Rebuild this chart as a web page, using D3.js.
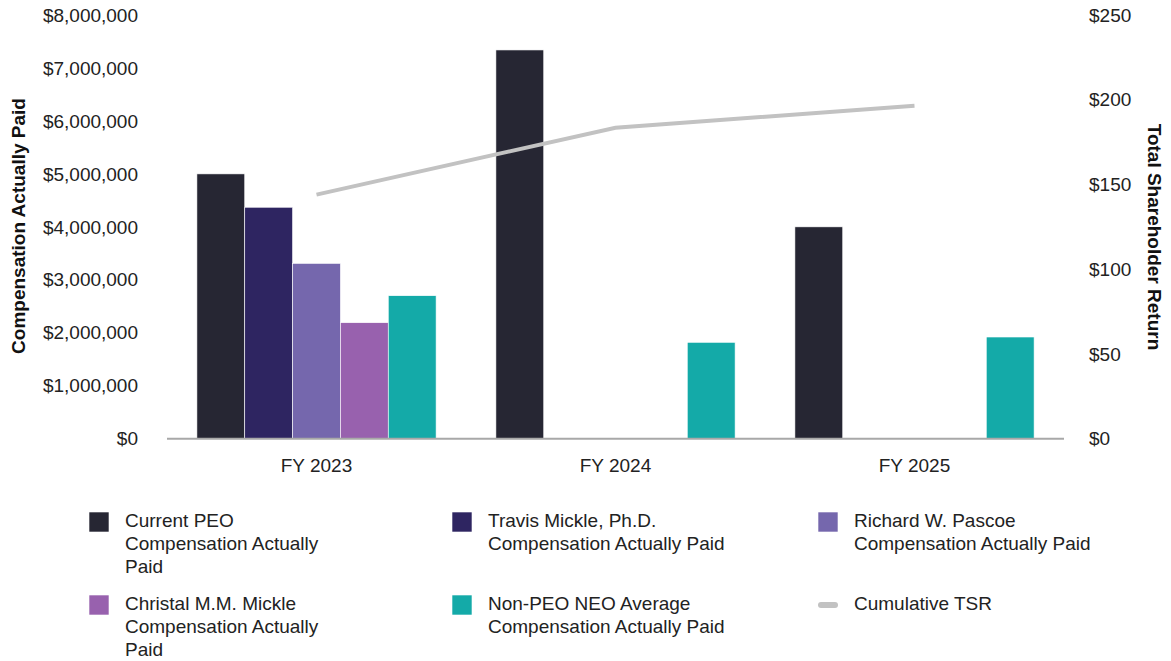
<!DOCTYPE html>
<html lang="en">
<head>
  <meta charset="UTF-8">
  <title>CAP vs TSR</title>
  <style>
    body{margin: 0; background: #fff;}
    svg{display: block; font-family: "Liberation Sans", Arial, sans-serif;}
  </style>
</head>
<body>
  <div id="chart"></div>
  <script src="https://d3js.org/d3.v7.min.js"></script>
  <script>
  // DATA
  const years = ["FY 2023", "FY 2024", "FY 2025"];
  const seriesNames = [
    ["Current PEO", "Compensation Actually", "Paid"],
    ["Travis Mickle, Ph.D.", "Compensation Actually Paid"],
    ["Richard W. Pascoe", "Compensation Actually Paid"],
    ["Christal M.M. Mickle", "Compensation Actually", "Paid"],
    ["Non-PEO NEO Average", "Compensation Actually Paid"]
  ];
  const currentPeo = [5000000, 7340000, 4000000];
  const travisMickle = [4370000, null, null];
  const richardPascoe = [3310000, null, null];
  const christalMickle = [2190000, null, null];
  const nonPeoAvg = [2700000, 1820000, 1920000];
  const tsr = [144, 183.5, 196.5];
  const leftTicks = [0, 1000000, 2000000, 3000000, 4000000, 5000000, 6000000, 7000000, 8000000];
  const rightTicks = [0, 50, 100, 150, 200, 250];

  // CONSTANTS
  const width = 1171;
  const height = 661;
  const fs = 19;
  const colors = ["#262633", "#2e2561", "#7567ad", "#9861ae", "#14aaa8"];
  const cline = "#c2c2c2";
  const caxis = "#a8a8a8";
  const ctext = "#222";

  const series = [currentPeo, travisMickle, richardPascoe, christalMickle, nonPeoAvg];

  const svg = d3.select("#chart").append("svg")
    .attr("width", width)
    .attr("height", height);

  // SCALES
  const x = d3.scaleBand()
    .domain(years)
    .range([167, 1064])
    .paddingInner(0.2)
    .paddingOuter(0.1);

  const xs = d3.scaleBand()
    .domain(d3.range(series.length))
    .range([0, x.bandwidth()]);

  const yL = d3.scaleLinear().domain([0, 8000000]).range([438.7, 15]);
  const yR = d3.scaleLinear().domain([0, 250]).range([438.7, 15]);

  // LEFT AXIS
  const money = d3.format("$,.0f");
  svg.append("g")
    .selectAll("text")
    .data(leftTicks)
    .join("text")
    .attr("x", 138)
    .attr("y", d => yL(d))
    .attr("dy", "0.35em")
    .attr("text-anchor", "end")
    .attr("font-size", fs)
    .attr("fill", ctext)
    .text(d => money(d));

  // RIGHT AXIS
  svg.append("g")
    .selectAll("text")
    .data(rightTicks)
    .join("text")
    .attr("x", 1089)
    .attr("y", d => yR(d))
    .attr("dy", "0.35em")
    .attr("text-anchor", "start")
    .attr("font-size", fs)
    .attr("fill", ctext)
    .text(d => "$" + d);

  // AXIS TITLES
  svg.append("text")
    .attr("transform", "translate(25,226) rotate(-90)")
    .attr("text-anchor", "middle")
    .attr("font-size", fs)
    .attr("font-weight", "bold")
    .attr("fill", "#111")
    .text("Compensation Actually Paid");

  svg.append("text")
    .attr("transform", "translate(1148,237) rotate(90)")
    .attr("text-anchor", "middle")
    .attr("font-size", fs)
    .attr("font-weight", "bold")
    .attr("fill", "#111")
    .text("Total Shareholder Return");

  // BARS
  const groups = svg.append("g")
    .selectAll("g")
    .data(years)
    .join("g")
    .attr("transform", d => `translate(${x(d)},0)`);

  groups.selectAll("rect")
    .data((d, i) => series.map((s, k) => ({k: k, v: s[i]})).filter(e => e.v != null))
    .join("rect")
    .attr("x", d => xs(d.k))
    .attr("width", xs.bandwidth())
    .attr("y", d => yL(d.v))
    .attr("height", d => yL(0) - yL(d.v))
    .attr("fill", d => colors[d.k])
    .attr("stroke", "#fff")
    .attr("stroke-width", 0.6);

  // BASELINE
  svg.append("line")
    .attr("x1", 167)
    .attr("x2", 1064)
    .attr("y1", yL(0))
    .attr("y2", yL(0))
    .attr("stroke", caxis)
    .attr("stroke-width", 2);

  // X LABELS
  svg.append("g")
    .selectAll("text")
    .data(years)
    .join("text")
    .attr("x", d => x(d) + x.bandwidth() / 2)
    .attr("y", 465)
    .attr("dy", "0.35em")
    .attr("text-anchor", "middle")
    .attr("font-size", fs)
    .attr("fill", ctext)
    .text(d => d);

  // TSR LINE
  const line = d3.line()
    .x((d, i) => x(years[i]) + x.bandwidth() / 2)
    .y(d => yR(d));

  svg.append("path")
    .datum(tsr)
    .attr("d", line)
    .attr("fill", "none")
    .attr("stroke", cline)
    .attr("stroke-width", 4);

  // LEGEND
  const legendItems = seriesNames.map((n, i) => ({lines: n, color: colors[i], type: "rect"}));
  legendItems.push({lines: ["Cumulative TSR"], color: cline, type: "line"});
  const colX = [89, 452, 818];
  const rowY = [512, 595];

  const legend = svg.append("g")
    .selectAll("g")
    .data(legendItems)
    .join("g")
    .attr("transform", (d, i) => `translate(${colX[i % 3]},${rowY[Math.floor(i / 3)]})`);

  legend.filter(d => d.type == "rect").append("rect")
    .attr("width", 20)
    .attr("height", 20)
    .attr("fill", d => d.color)
    .attr("stroke", "#fff")
    .attr("stroke-width", 0.6);

  legend.filter(d => d.type == "line").append("line")
    .attr("x1", 3)
    .attr("x2", 17)
    .attr("y1", 10)
    .attr("y2", 10)
    .attr("stroke", d => d.color)
    .attr("stroke-width", 6)
    .attr("stroke-linecap", "round");

  legend.append("text")
    .attr("font-size", fs)
    .attr("fill", ctext)
    .selectAll("tspan")
    .data(d => d.lines)
    .join("tspan")
    .attr("x", 36)
    .attr("y", (d, i) => 15 + i * 23)
    .text(d => d);
  </script>
</body>
</html>
